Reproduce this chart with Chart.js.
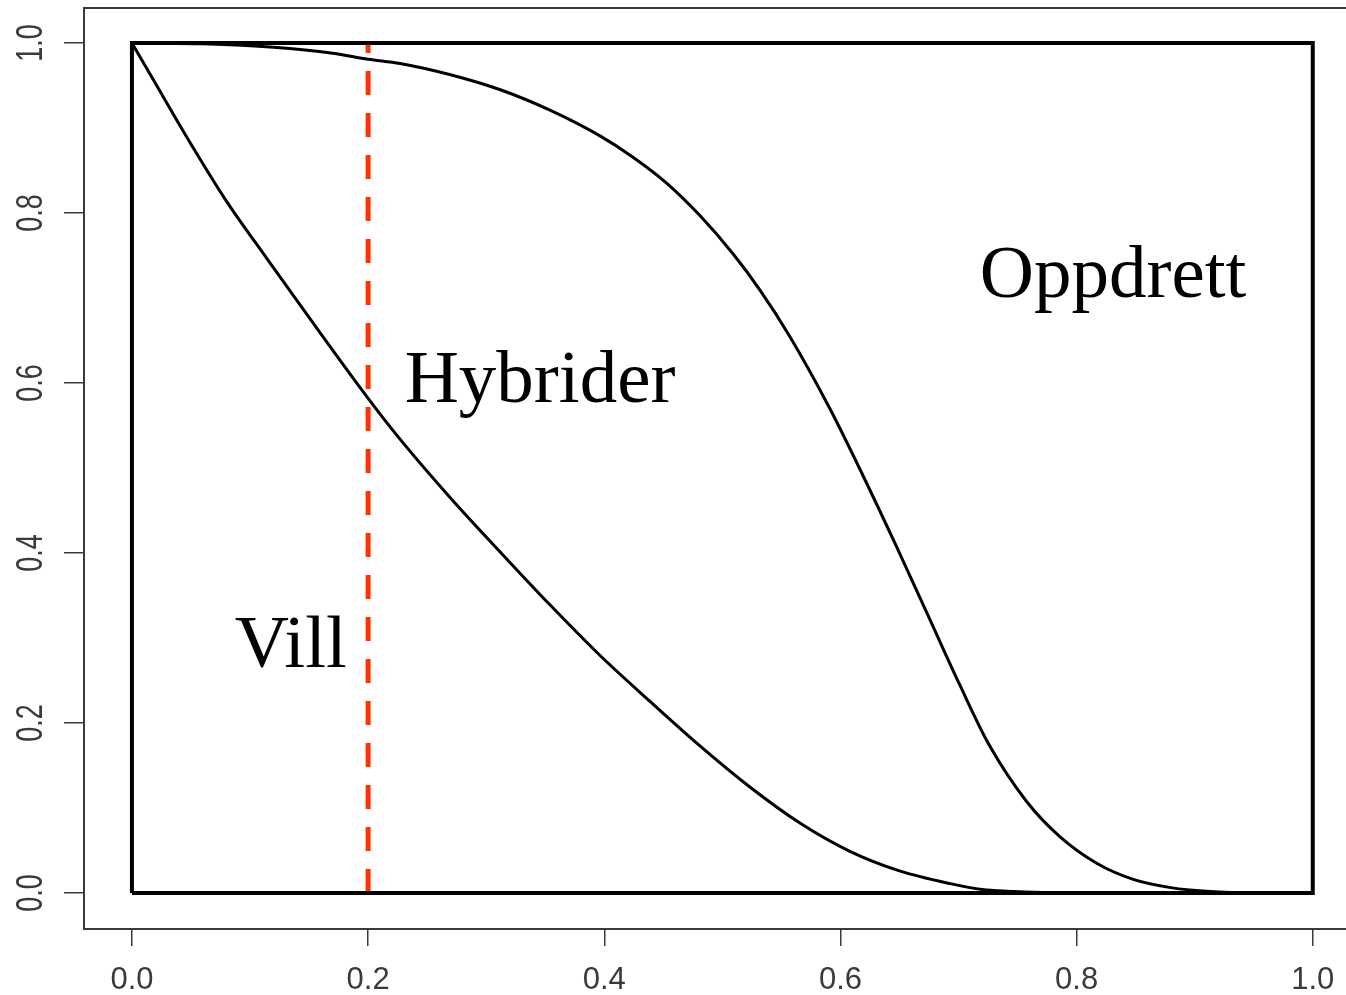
<!DOCTYPE html>
<html>
<head>
<meta charset="utf-8">
<script src="https://cdn.jsdelivr.net/npm/chart.js@4"></script>
<style>
  html, body { margin: 0; padding: 0; background: #fff; overflow: hidden; }
  canvas { display: block; }
</style>
</head>
<body>
<canvas id="chart" width="1400" height="995"></canvas>
<script>
const xTicks = [0, 0.2, 0.4, 0.6, 0.8, 1.0];
const yTicks = [0, 0.2, 0.4, 0.6, 0.8, 1.0];

// lower curve (Vill / Hybrider)
const villX = [0, 0.018, 0.047, 0.080, 0.114, 0.148, 0.200, 0.227, 0.269, 0.312, 0.354, 0.396, 0.439, 0.481, 0.523, 0.566, 0.608, 0.650, 0.693, 0.720, 0.741, 0.800, 1.0];
const villY = [1, 0.957, 0.888, 0.814, 0.747, 0.681, 0.582, 0.534, 0.466, 0.401, 0.339, 0.280, 0.225, 0.173, 0.125, 0.082, 0.049, 0.026, 0.011, 0.004, 0.002, 0, 0];

// upper curve (Hybrider / Oppdrett)
const oppX = [0, 0.06, 0.12, 0.17, 0.200, 0.227, 0.269, 0.312, 0.354, 0.396, 0.424, 0.453, 0.481, 0.509, 0.532, 0.557, 0.591, 0.616, 0.648, 0.676, 0.701, 0.726, 0.758, 0.786, 0.817, 0.848, 0.881, 0.910, 0.95, 1.0];
const oppY = [1, 0.999, 0.995, 0.988, 0.981, 0.976, 0.963, 0.945, 0.921, 0.891, 0.866, 0.835, 0.797, 0.752, 0.709, 0.655, 0.570, 0.500, 0.406, 0.321, 0.245, 0.174, 0.107, 0.066, 0.035, 0.016, 0.006, 0.002, 0, 0];

// unit square drawn around the curves
const boxX = [0, 0, 1, 1, 0];
const boxY = [0, 1, 1, 0, 0];

// dashed cut-off
const cutX = [0.2, 0.2];
const cutY = [0, 1];

const regionNames = ['Vill', 'Hybrider', 'Oppdrett'];

const pts = (xs, ys) => xs.map((x, i) => ({ x: x, y: ys[i] }));

const axisColor = '#3a3a3a';
const sansFont = '"Liberation Sans", Arial, sans-serif';

// y tick labels read bottom-to-top like R
const rotatedYLabels = {
  id: 'rotatedYLabels',
  afterDraw(chart) {
    const ys = chart.scales.y;
    const ctx = chart.ctx;
    const size = 27;
    ctx.save();
    ctx.fillStyle = axisColor;
    ctx.font = size + 'px ' + sansFont;
    ctx.textAlign = 'center';
    ctx.textBaseline = 'alphabetic';
    ys.ticks.forEach(t => {
      ctx.save();
      ctx.translate(ys.left + 28, ys.getPixelForValue(t.value));
      ctx.rotate(-Math.PI / 2);
      ctx.scale(1, 1.4);
      ctx.fillText(t.value.toFixed(1), 0, size * 0.358);
      ctx.restore();
    });
    ctx.restore();
  }
};

const regionLabels = {
  id: 'regionLabels',
  afterDatasetsDraw(chart, args, opts) {
    const ctx = chart.ctx;
    const { x, y } = chart.scales;
    ctx.save();
    ctx.font = opts.font;
    ctx.fillStyle = opts.color;
    ctx.textAlign = 'left';
    ctx.textBaseline = 'alphabetic';
    opts.anchors.forEach((a, i) => {
      ctx.fillText(regionNames[i], x.getPixelForValue(a[0]), y.getPixelForValue(a[1]));
    });
    ctx.restore();
  }
};

new Chart(document.getElementById('chart'), {
  type: 'scatter',
  data: {
    datasets: [
      { data: pts(villX, villY), showLine: true, borderColor: '#000', borderWidth: 3, pointRadius: 0, cubicInterpolationMode: 'monotone' },
      { data: pts(oppX, oppY), showLine: true, borderColor: '#000', borderWidth: 3, pointRadius: 0, cubicInterpolationMode: 'monotone' },
      { data: pts(boxX, boxY), showLine: true, borderColor: '#000', borderWidth: 4, pointRadius: 0, tension: 0 },
      { data: pts(cutX, cutY), showLine: true, borderColor: '#ff3300', borderWidth: 5, borderDash: [24, 18], pointRadius: 0, tension: 0 }
    ]
  },
  options: {
    responsive: false,
    animation: false,
    devicePixelRatio: 1,
    // right side of the R frame falls just outside the window
    layout: { padding: { top: 8, left: 0, right: 40, bottom: 0 } },
    plugins: {
      legend: { display: false },
      tooltip: { enabled: false },
      regionLabels: {
        font: '75px "Liberation Serif", "Times New Roman", serif',
        color: '#000',
        anchors: [[0.087, 0.266], [0.231, 0.578], [0.718, 0.701]]
      }
    },
    scales: {
      x: {
        type: 'linear',
        position: 'bottom',
        min: -0.0406,
        max: 1.04,
        afterBuildTicks: s => { s.ticks = xTicks.map(v => ({ value: v })); },
        afterFit: s => { s.height = 66; },
        grid: { drawOnChartArea: false, drawTicks: true, tickLength: 17, color: axisColor, lineWidth: 1.5 },
        border: { display: true, color: axisColor, width: 2 },
        ticks: {
          color: axisColor,
          font: { family: sansFont, size: 31 },
          padding: 16,
          maxRotation: 0,
          autoSkip: false,
          callback: v => Number(v).toFixed(1)
        }
      },
      xTop: {
        type: 'linear',
        axis: 'x',
        position: 'top',
        min: -0.0406,
        max: 1.04,
        afterFit: s => { s.height = 0; },
        grid: { display: false, drawTicks: false },
        border: { display: true, color: axisColor, width: 2 },
        ticks: { display: false }
      },
      y: {
        type: 'linear',
        position: 'left',
        min: -0.0424,
        max: 1.0412,
        afterBuildTicks: s => { s.ticks = yTicks.map(v => ({ value: v })); },
        afterFit: s => { s.width = 84; },
        grid: { drawOnChartArea: false, drawTicks: true, tickLength: 20, color: axisColor, lineWidth: 1.5 },
        border: { display: true, color: axisColor, width: 2 },
        ticks: { display: false }
      }
    }
  },
  plugins: [regionLabels, rotatedYLabels]
});
</script>
</body>
</html>
